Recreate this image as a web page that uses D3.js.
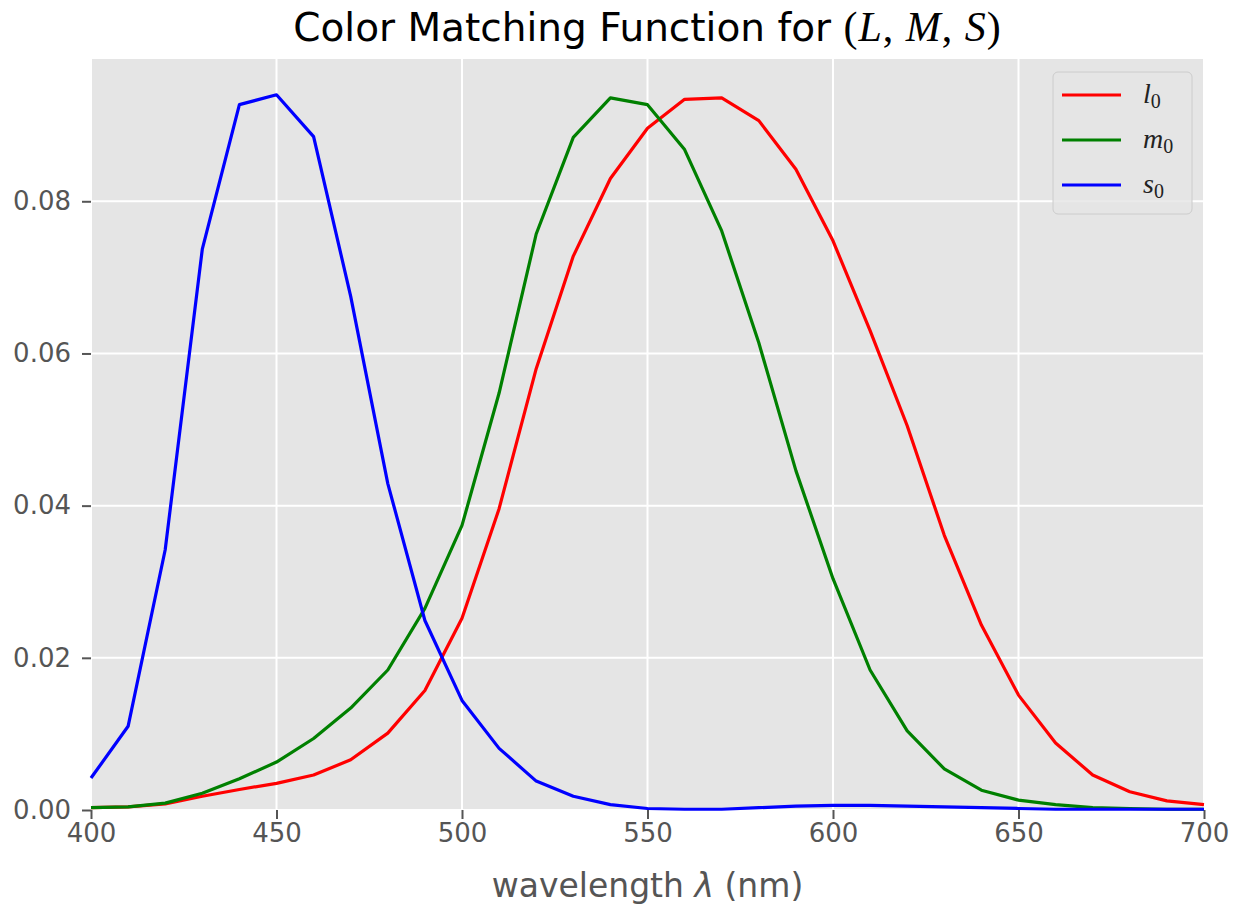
<!DOCTYPE html>
<html>
<head>
<meta charset="utf-8">
<script src="https://cdn.jsdelivr.net/npm/d3@7"></script>
<style>
  body { margin: 0; background: #fff; }
  svg text { font-family: "DejaVu Sans", sans-serif; }
  .math { font-family: "Liberation Serif", "DejaVu Serif", serif; font-style: italic; }
</style>
</head>
<body>
<div id="chart"></div>
<script>
const wavelengths = d3.range(400, 701, 10)

const l0 = [0.0003, 0.0004, 0.0008, 0.0018, 0.0027, 0.0035, 0.0046, 0.0066, 0.0101, 0.0157,
  0.0252, 0.0396, 0.058, 0.0728, 0.083, 0.0896, 0.0934, 0.0936, 0.0906, 0.0842,
  0.0748, 0.063, 0.0505, 0.0361, 0.0243, 0.0151, 0.0088, 0.0046, 0.0024, 0.0012, 0.0007]

const m0 = [0.0003, 0.0004, 0.0009, 0.0022, 0.0041, 0.0063, 0.0094, 0.0134, 0.0184, 0.0265,
  0.0374, 0.0548, 0.0757, 0.0884, 0.0936, 0.0927, 0.0868, 0.0761, 0.0614, 0.0446,
  0.0304, 0.0184, 0.0104, 0.0054, 0.0026, 0.0013, 0.0007, 0.0003, 0.0002, 0.0001, 0.0001]

const s0 = [0.0042, 0.011, 0.0342, 0.0737, 0.0927, 0.094, 0.0885, 0.0675, 0.0429, 0.0249,
  0.0144, 0.0081, 0.0038, 0.0018, 0.0007, 0.0002, 0.0001, 0.0001, 0.0003, 0.0005,
  0.0006, 0.0006, 0.0005, 0.0004, 0.0003, 0.0002, 0.0001, 0.0001, 0.0001, 0.0001, 0.0001]

const seriesNames = ['l', 'm', 's']
const seriesColors = ['red', 'green', 'blue']
const xTicks = [400, 450, 500, 550, 600, 650, 700]
const yTicks = [0, 0.02, 0.04, 0.06, 0.08]

const width = 1242
const height = 910
const margin = { top: 59, right: 38, bottom: 100, left: 91 }
const innerW = width - margin.left - margin.right
const innerH = height - margin.top - margin.bottom

const series = [l0, m0, s0].map((vals, i) => ({
  name: seriesNames[i],
  color: seriesColors[i],
  values: vals.map((v, j) => ({ x: wavelengths[j], y: v }))
}))

// matplotlib-style 5% headroom above the highest point
const yMax = d3.max([l0, m0, s0].flat()) * 1.05

const x = d3.scaleLinear().domain([400, 700]).range([0, innerW])
const y = d3.scaleLinear().domain([0, yMax]).range([innerH, 0])

const svg = d3.select('#chart').append('svg')
  .attr('width', width)
  .attr('height', height)

const g = svg.append('g').attr('transform', `translate(${margin.left},${margin.top})`)

g.append('rect')
  .attr('width', innerW)
  .attr('height', innerH)
  .attr('fill', '#e5e5e5')

// grid
g.selectAll('.vgrid').data(xTicks).enter().append('line')
  .attr('x1', d => x(d)).attr('x2', d => x(d))
  .attr('y1', 0).attr('y2', innerH)
  .attr('stroke', '#fff').attr('stroke-width', 2)
g.selectAll('.hgrid').data(yTicks).enter().append('line')
  .attr('x1', 0).attr('x2', innerW)
  .attr('y1', d => y(d)).attr('y2', d => y(d))
  .attr('stroke', '#fff').attr('stroke-width', 2)

// axes
const xAxis = g.append('g')
  .attr('transform', `translate(0,${innerH})`)
  .call(d3.axisBottom(x).tickValues(xTicks).tickSize(9).tickPadding(5).tickFormat(d3.format('d')))
const yAxis = g.append('g')
  .call(d3.axisLeft(y).tickValues(yTicks).tickSize(9).tickPadding(11).tickFormat(d3.format('.2f')))

;[xAxis, yAxis].forEach(ax => {
  ax.select('.domain').remove()
  ax.selectAll('line').attr('stroke', '#555').attr('stroke-width', 2)
  ax.selectAll('text')
    .attr('fill', '#555')
    .style('font-size', '26px')
    .style('font-family', '"DejaVu Sans", sans-serif')
})

const line = d3.line().x(d => x(d.x)).y(d => y(d.y))

g.selectAll('.series').data(series).enter().append('path')
  .attr('d', d => line(d.values))
  .attr('fill', 'none')
  .attr('stroke', d => d.color)
  .attr('stroke-width', 3.2)
  .attr('stroke-linejoin', 'round')

// title
const title = svg.append('text')
  .attr('x', margin.left + innerW / 2)
  .attr('y', 41)
  .attr('text-anchor', 'middle')
  .attr('fill', '#000')
  .style('font-size', '39px')
title.append('tspan').text('Color Matching Function for ')
const mathParts = [['(', false], ['L', true], [', ', false], ['M', true], [', ', false], ['S', true], [')', false]]
mathParts.forEach(([t, it]) => {
  title.append('tspan').attr('class', 'math')
    .style('font-style', it ? 'italic' : 'normal')
    .style('font-size', '42px')
    .style('letter-spacing', '1px')
    .text(t)
})

// x label
const xLabel = svg.append('text')
  .attr('x', margin.left + innerW / 2)
  .attr('y', 897)
  .attr('text-anchor', 'middle')
  .attr('fill', '#555')
  .style('font-size', '33px')
xLabel.append('tspan').text('wavelength ')
xLabel.append('tspan').style('font-style', 'italic').text('λ')
xLabel.append('tspan').text(' (nm)')

// legend
const legend = g.append('g').attr('transform', `translate(${innerW - 151},13)`)
legend.append('rect')
  .attr('width', 139).attr('height', 142)
  .attr('rx', 5)
  .attr('fill', '#e5e5e5').attr('fill-opacity', 0.8)
  .attr('stroke', '#ccc').attr('stroke-width', 1)

const items = legend.selectAll('.item').data(series).enter().append('g')
  .attr('transform', (d, i) => `translate(0,${23 + i * 45})`)
items.append('line')
  .attr('x1', 9).attr('x2', 68)
  .attr('stroke', d => d.color).attr('stroke-width', 3.2)
const lbl = items.append('text')
  .attr('x', 90).attr('y', 8)
  .attr('fill', '#222')
  .style('font-size', '28px')
lbl.append('tspan').attr('class', 'math').text(d => d.name)
lbl.append('tspan').attr('class', 'math').style('font-style', 'normal')
  .style('font-size', '20px').attr('dy', 5).text('0')
</script>
</body>
</html>
